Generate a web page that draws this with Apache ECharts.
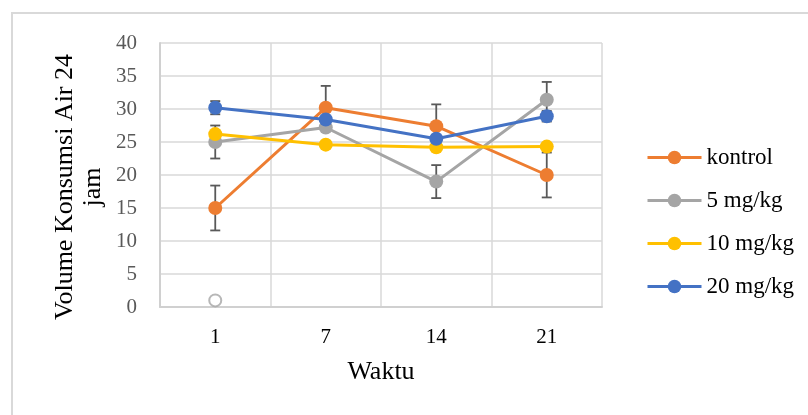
<!DOCTYPE html>
<html>
<head>
<meta charset="utf-8">
<script src="https://cdn.jsdelivr.net/npm/echarts@6/dist/echarts.min.js"></script>
<style>
  html, body { margin: 0; padding: 0; background: #fff; }
  #chart { width: 808px; height: 415px; }
</style>
</head>
<body>
<div id="chart"></div>
<script>
// values
const categories = ['1', '7', '14', '21']
const legendNames = ['kontrol', '5 mg/kg', '10 mg/kg', '20 mg/kg']
const kontrol = [15, 30.2, 27.4, 20]
const kontrolErr = [3.4, 3.3, 3.3, 3.4]
const mg5 = [25, 27.2, 19, 31.4]
const mg5Err = [2.5, 0, 2.5, 2.7]
const mg10 = [26.2, 24.6, 24.2, 24.3]
const mg10Err = [0, 0, 0, 0]
const mg20 = [30.2, 28.4, 25.5, 28.9]
const mg20Err = [1.0, 0, 0, 0.8]
const strayPoint = [['1', 1]]
const yTicks = { min: 0, max: 40, interval: 5 }

const colors = ['#ED7D31', '#A5A5A5', '#FFC000', '#4472C4']
const serif = '"Liberation Serif", "Times New Roman", serif'

function errData (vals, errs) {
  const out = []
  vals.forEach((v, i) => {
    if (errs[i] > 0) out.push([i, v - errs[i], v + errs[i]])
  })
  return out
}

function errSeries (vals, errs) {
  return {
    type: 'custom',
    z: 1,
    silent: true,
    renderItem: function (params, api) {
      const x = api.value(0)
      const lo = api.coord([x, api.value(1)])
      const hi = api.coord([x, api.value(2)])
      const w = 5
      const st = { stroke: '#595959', lineWidth: 1.8 }
      return {
        type: 'group',
        children: [
          { type: 'line', shape: { x1: lo[0], y1: lo[1], x2: hi[0], y2: hi[1] }, style: st },
          { type: 'line', shape: { x1: lo[0] - w, y1: lo[1], x2: lo[0] + w, y2: lo[1] }, style: st },
          { type: 'line', shape: { x1: hi[0] - w, y1: hi[1], x2: hi[0] + w, y2: hi[1] }, style: st }
        ]
      }
    },
    data: errData(vals, errs)
  }
}

function lineSeries (name, vals, color) {
  return {
    name: name,
    type: 'line',
    z: 3,
    data: vals,
    symbol: 'circle',
    symbolSize: 14,
    lineStyle: { width: 3, color: color },
    itemStyle: { color: color }
  }
}

const myChart = echarts.init(document.getElementById('chart'))
const option = {
  color: colors,
  animation: false,
  grid: { left: 160, right: 206, top: 43, bottom: 108 },
  graphic: [
    {
      type: 'rect',
      shape: { x: 12, y: 13, width: 820, height: 420 },
      style: { fill: 'none', stroke: '#d9d9d9', lineWidth: 2 }
    },
    {
      type: 'text',
      x: 79,
      y: 187,
      rotation: Math.PI / 2,
      style: {
        text: 'Volume Konsumsi Air 24\njam',
        font: '26px ' + serif,
        fill: '#000',
        align: 'center',
        verticalAlign: 'middle',
        lineHeight: 28
      }
    }
  ],
  legend: {
    orient: 'vertical',
    left: 641,
    top: 140,
    itemWidth: 54,
    itemHeight: 17,
    itemGap: 18,
    data: legendNames,
    lineStyle: { width: 3 },
    textStyle: { fontFamily: serif, fontSize: 23, color: '#000', lineHeight: 25 }
  },
  xAxis: {
    type: 'category',
    data: categories,
    name: 'Waktu',
    nameLocation: 'middle',
    nameGap: 52,
    nameTextStyle: { fontFamily: serif, fontSize: 26, color: '#000' },
    axisLine: { lineStyle: { color: '#d0d0d0', width: 2 } },
    axisTick: { show: false },
    axisLabel: { fontFamily: serif, fontSize: 21, color: '#000', margin: 20 },
    splitLine: { show: true, lineStyle: { color: '#d9d9d9', width: 1.5 } }
  },
  yAxis: {
    type: 'value',
    min: yTicks.min,
    max: yTicks.max,
    interval: yTicks.interval,
    axisLine: { show: true, lineStyle: { color: '#d0d0d0', width: 2 } },
    axisTick: { show: false },
    axisLabel: { fontFamily: serif, fontSize: 21, color: '#595959', margin: 23 },
    splitLine: { lineStyle: { color: '#d9d9d9', width: 1.5 } }
  },
  series: [
    errSeries(kontrol, kontrolErr),
    errSeries(mg5, mg5Err),
    errSeries(mg10, mg10Err),
    errSeries(mg20, mg20Err),
    lineSeries(legendNames[0], kontrol, colors[0]),
    lineSeries(legendNames[1], mg5, colors[1]),
    lineSeries(legendNames[2], mg10, colors[2]),
    lineSeries(legendNames[3], mg20, colors[3]),
    {
      type: 'scatter',
      z: 3,
      data: strayPoint,
      symbol: 'circle',
      symbolSize: 12,
      itemStyle: { color: '#fff', borderColor: '#A5A5A5', borderWidth: 2 }
    }
  ]
}
myChart.setOption(option)
</script>
</body>
</html>
